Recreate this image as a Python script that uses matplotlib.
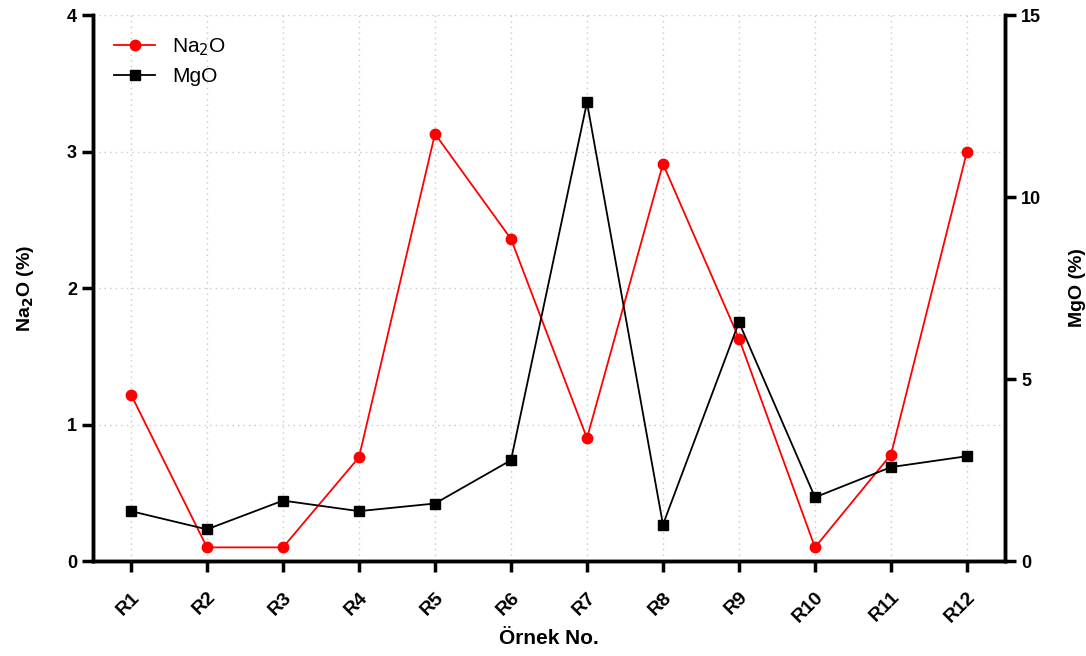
import matplotlib.pyplot as plt
import numpy as np

plt.rcParams['font.family'] = ['Liberation Sans', 'DejaVu Sans']

samples = ['R1', 'R2', 'R3', 'R4', 'R5', 'R6', 'R7', 'R8', 'R9', 'R10', 'R11', 'R12']
na2o = [1.22, 0.10, 0.10, 0.76, 3.13, 2.36, 0.90, 2.91, 1.63, 0.10, 0.78, 3.00]
mgo = [1.37, 0.87, 1.66, 1.37, 1.58, 2.77, 12.6, 1.0, 6.56, 1.75, 2.58, 2.88]

x = np.arange(1, len(samples) + 1)

fig = plt.figure(figsize=(10.86, 6.56), dpi=100)
ax = fig.add_axes([0.0856, 0.1448, 0.8398, 0.8322])
ax2 = ax.twinx()

l1, = ax.plot(x, na2o, color='red', marker='o', markersize=7.5, linewidth=1.3, label='Na$_2$O', zorder=3)
l2, = ax2.plot(x, mgo, color='black', marker='s', markersize=7.5, linewidth=1.3, label='MgO', zorder=3)

ax.set_xlim(0.5, 12.5)
ax.set_ylim(0, 4)
ax2.set_ylim(0, 15)
ax.set_yticks([0, 1, 2, 3, 4])
ax2.set_yticks([0, 5, 10, 15])
ax.set_xticks(x)
ax.set_xticklabels(samples, rotation=45, ha='right', rotation_mode='anchor')

ax.grid(True, color='#c8c8c8', linestyle=(0, (1, 3)), linewidth=1)
ax.set_axisbelow(True)

for a in (ax, ax2):
    a.spines['top'].set_visible(False)
    for s in ('left', 'right', 'bottom'):
        a.spines[s].set_linewidth(2.5)
    a.tick_params(width=2.5, length=8, labelsize=13)
    for lab in a.get_xticklabels() + a.get_yticklabels():
        lab.set_fontweight('bold')
ax.tick_params(axis='x', pad=12, labelsize=14)

ax.set_xlabel('Örnek No.', fontsize=15, fontweight='bold', labelpad=2)
ax.set_ylabel('Na$_\\mathbf{2}$O (%)', fontsize=14, fontweight='bold', labelpad=22)
ax2.set_ylabel('MgO (%)', fontsize=14, fontweight='bold', labelpad=20)

ax.legend(handles=[l1, l2], loc='upper left', frameon=False, fontsize=15,
          handlelength=2.0, labelspacing=0.45, borderaxespad=0.6, bbox_to_anchor=(0.0, 1.0))

fig.savefig('out.png', dpi=100)
